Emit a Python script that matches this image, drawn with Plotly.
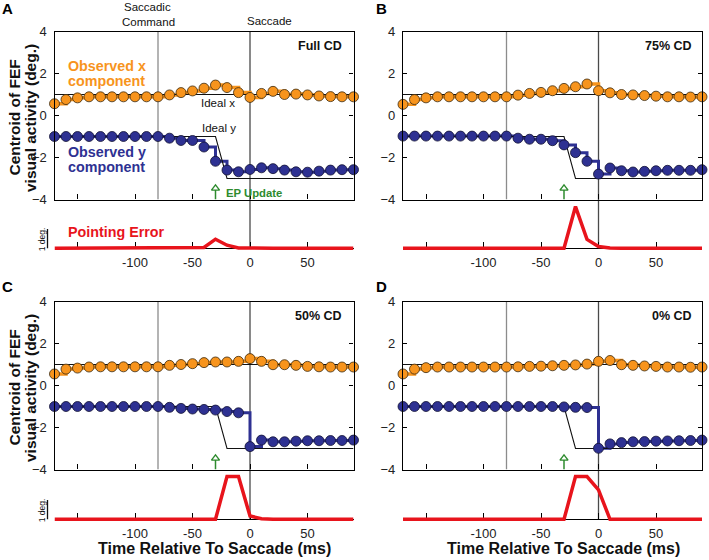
import plotly.graph_objects as go

W, H = 709, 560

# ---------------- data ----------------
t = list(range(-170, 91, 10))  # 27 samples, ms relative to saccade

obs_x_A = [0.56, 0.76, 0.84, 0.89, 0.89, 0.89, 0.89, 0.89, 0.89, 0.89,
           0.98, 1.09, 1.17, 1.30, 1.45, 1.33, 1.09, 0.86,
           1.05, 1.15, 1.00, 1.02, 0.98, 0.93, 0.90, 0.89, 0.89]
obs_y_A = [-1.0] * 10 + [-1.08, -1.19, -1.19, -1.50, -2.18, -2.60, -2.68, -2.57,
                         -2.49, -2.53, -2.60, -2.68, -2.70, -2.65, -2.60, -2.58, -2.58]
err_A = [0] * 13 + [0.04, 0.47, 0.16, 0.02, 0] + [0] * 9

obs_x_B = [0.53, 0.76, 0.84, 0.89, 0.89, 0.89, 0.89, 0.89, 0.89, 0.89,
           0.97, 1.05, 1.10, 1.18, 1.29, 1.37, 1.50, 1.18,
           1.08, 1.00, 0.98, 0.95, 0.92, 0.89, 0.89, 0.88, 0.89]
obs_y_B = [-0.98] * 10 + [-1.08, -1.13, -1.13, -1.20, -1.40, -1.77, -2.18, -2.79,
                          -2.50, -2.63, -2.69, -2.66, -2.63, -2.61, -2.61, -2.61, -2.58]
err_B = [0] * 15 + [2.15, 0.46, 0.09, 0.02] + [0] * 8

obs_x_C = [0.55, 0.78, 0.83, 0.88, 0.89, 0.89, 0.89, 0.89, 0.89, 0.89,
           0.96, 1.00, 1.04, 1.09, 1.12, 1.12, 1.15, 1.28,
           1.15, 0.99, 0.99, 0.96, 0.91, 0.89, 0.88, 0.88, 0.88]
obs_y_C = [-1.0] * 10 + [-1.04, -1.09, -1.12, -1.14, -1.17, -1.24, -1.30, -2.91,
                         -2.60, -2.68, -2.68, -2.65, -2.63, -2.63, -2.62, -2.62, -2.60]
err_C = [0] * 15 + [2.2, 2.2, 0.17, 0.03] + [0] * 8

obs_x_D = [0.55, 0.78, 0.85, 0.88, 0.88, 0.88, 0.88, 0.88, 0.88, 0.88,
           0.89, 0.91, 0.92, 0.94, 0.96, 0.98, 1.02, 1.15,
           1.19, 0.99, 0.96, 0.93, 0.91, 0.88, 0.88, 0.87, 0.88]
obs_y_D = [-1.0] * 14 + [-1.02, -1.04, -1.05, -2.99,
                         -2.78, -2.72, -2.68, -2.67, -2.65, -2.64, -2.63, -2.62, -2.60]
err_D = [0] * 15 + [2.2, 2.2, 1.52, 0] + [0] * 8

ideal_t = [-170, -30, -20, 90]
ideal_y = [-1, -1, -3, -3]
ideal_x_t = [-170, 90]
ideal_x = [1, 1]

saccade_cmd_t = -80
saccade_t = 0
ep_update_t = -30

panel_letters = ["A", "B", "C", "D"]
panel_titles = ["Full CD", "75% CD", "50% CD", "0% CD"]
x_tickvals = [-150, -100, -50, 0, 50]
x_ticktext = ["", "-100", "-50", "0", "50"]
y_tickvals = [-4, -2, 0, 2, 4]

obs_x = [obs_x_A, obs_x_B, obs_x_C, obs_x_D]
obs_y = [obs_y_A, obs_y_B, obs_y_C, obs_y_D]
errs = [err_A, err_B, err_C, err_D]

# ---------------- style ----------------
ORANGE = "#F7941D"
NAVY = "#2E3192"
RED = "#E8141C"
GREEN = "#2E8B2E"
FONT = "Liberation Sans, Arial, sans-serif"
PX_PER_DEG = 19.4

# panel geometry in pixels: (left, right, main_top, main_bottom, baseline)
geom = [
    (54.5, 353.5, 31.5, 199.5, 248.3),
    (403.0, 702.0, 31.5, 199.5, 248.3),
    (54.5, 353.5, 301.5, 469.5, 519.3),
    (403.0, 702.0, 301.5, 469.5, 519.3),
]


def px2x(px):
    return px / W


def px2y(py):
    return 1 - py / H


fig = go.Figure()
layout = dict(
    width=W, height=H,
    margin=dict(l=0, r=0, t=0, b=0, pad=0, autoexpand=False),
    paper_bgcolor="white", plot_bgcolor="rgba(0,0,0,0)",
    showlegend=False,
    font=dict(family=FONT, size=13, color="#222"),
)
shapes = []
annotations = []


def ann(text, px, py, size, color="#111", xanchor="center", yanchor="middle", angle=0):
    annotations.append(dict(
        text=text, x=px2x(px), y=px2y(py), xref="paper", yref="paper",
        xanchor=xanchor, yanchor=yanchor, showarrow=False, textangle=angle,
        font=dict(family=FONT, size=size, color=color), borderpad=0,
    ))


for i, (left, right, mtop, mbot, base) in enumerate(geom):
    mi = 2 * i + 1
    ei = 2 * i + 2
    xm = "x" if mi == 1 else f"x{mi}"
    ym = "y" if mi == 1 else f"y{mi}"
    xe = f"x{ei}"
    ye = f"y{ei}"
    xdom = [px2x(left), px2x(right)]
    err_bot = base + 6
    err_range = [-(err_bot - base) / PX_PER_DEG, (base - mbot) / PX_PER_DEG]

    layout["xaxis" if mi == 1 else f"xaxis{mi}"] = dict(
        domain=xdom, range=[-170, 90], anchor=ym,
        tickvals=x_tickvals, showticklabels=False,
        ticks="inside", ticklen=5, tickcolor="black", tickwidth=1,
        showline=True, linecolor="black", linewidth=1.3, mirror=True,
        showgrid=False, zeroline=False, automargin=False,
    )
    layout["yaxis" if mi == 1 else f"yaxis{mi}"] = dict(
        domain=[px2y(mbot), px2y(mtop)], range=[-4, 4], anchor=xm,
        tickvals=y_tickvals, ticks="inside", ticklen=4, tickcolor="black",
        showline=True, linecolor="black", linewidth=1.3, mirror="ticks",
        showgrid=False, zeroline=False, ticklabelstandoff=4, automargin=False,
        tickfont=dict(size=13, color="#222"),
    )
    layout[f"xaxis{ei}"] = dict(
        domain=xdom, range=[-170, 90], anchor="free", position=px2y(base),
        tickvals=x_tickvals, ticktext=x_ticktext,
        ticks="inside", ticklen=6, tickcolor="black", tickwidth=1,
        showline=True, linecolor="black", linewidth=1, layer="below traces",
        showgrid=False, zeroline=False, ticklabelstandoff=2, automargin=False,
        tickfont=dict(size=13, color="#222"),
    )
    layout[f"yaxis{ei}"] = dict(
        domain=[px2y(err_bot), px2y(mbot)], range=err_range, anchor=xe,
        visible=False, automargin=False,
    )

    # observed step lines
    fig.add_trace(go.Scatter(x=t, y=obs_x[i], xaxis=xm, yaxis=ym, mode="lines",
                             line=dict(color=ORANGE, width=3.5, shape="hv"), hoverinfo="skip"))
    fig.add_trace(go.Scatter(x=t, y=obs_y[i], xaxis=xm, yaxis=ym, mode="lines",
                             line=dict(color=NAVY, width=3, shape="hv"), hoverinfo="skip"))
    # ideal lines
    fig.add_trace(go.Scatter(x=ideal_x_t, y=ideal_x, xaxis=xm, yaxis=ym, mode="lines",
                             line=dict(color="#111", width=1.1), hoverinfo="skip"))
    fig.add_trace(go.Scatter(x=ideal_t, y=ideal_y, xaxis=xm, yaxis=ym, mode="lines",
                             line=dict(color="#111", width=1.1), hoverinfo="skip"))
    # markers
    fig.add_trace(go.Scatter(x=t, y=obs_x[i], xaxis=xm, yaxis=ym, mode="markers", cliponaxis=False,
                             marker=dict(color=ORANGE, size=10, line=dict(color="#3a2a10", width=0.8))))
    fig.add_trace(go.Scatter(x=t, y=obs_y[i], xaxis=xm, yaxis=ym, mode="markers", cliponaxis=False,
                             marker=dict(color=NAVY, size=10, line=dict(color="#111133", width=0.8))))
    # EP update arrow
    fig.add_trace(go.Scatter(x=[ep_update_t, ep_update_t], y=[-4, -3.55], xaxis=xm, yaxis=ym,
                             mode="lines", line=dict(color=GREEN, width=1.5), hoverinfo="skip"))
    fig.add_trace(go.Scatter(x=[ep_update_t], y=[-3.47], xaxis=xm, yaxis=ym, mode="markers",
                             cliponaxis=False,
                             marker=dict(symbol="triangle-up-open", size=7, color=GREEN,
                                         line=dict(color=GREEN, width=1.4))))
    # pointing error
    fig.add_trace(go.Scatter(x=t, y=errs[i], xaxis=xe, yaxis=ye, mode="lines", cliponaxis=False,
                             line=dict(color=RED, width=3.5), hoverinfo="skip"))

    # vertical reference lines
    shapes.append(dict(type="line", xref=xm, yref=ym, x0=saccade_cmd_t, x1=saccade_cmd_t,
                       y0=-4, y1=4, line=dict(color="#8c8c8c", width=1.3), layer="below"))
    shapes.append(dict(type="line", xref=xm, yref="paper", x0=saccade_t, x1=saccade_t,
                       y0=px2y(base), y1=px2y(mtop), line=dict(color="#4a4a4a", width=1.3),
                       layer="below"))

    # panel letter and condition title
    ann("<b>" + panel_letters[i] + "</b>", 7.2 if i % 2 == 0 else 381.2,
        mtop - 23 if i < 2 else mtop - 15.5, 15, color="#000")
    ann("<b>" + panel_titles[i] + "</b>", right - (11 if i % 2 == 0 else 9.5), mtop + 14.5,
        12.5, color="#111", xanchor="right")

    # left-column decorations
    if i % 2 == 0:
        ymid = (mtop + mbot) / 2 + 2.5
        ann("<b>Centroid of FEF</b>", 13.5, ymid, 15.5, color="#111", angle=-90)
        ann("<b>visual activity (deg.)</b>", 30, ymid, 15.5, color="#111", angle=-90)
        # 1 deg scale bar
        shapes.append(dict(type="line", xref="paper", yref=ye, x0=px2x(47.5), x1=px2x(47.5),
                           y0=0, y1=1, line=dict(color="#111", width=1.3)))
        ann("1 deg.", 41.5, base - 8.5, 8.5, color="#111", angle=-90)

    if i >= 2:
        ann("<b>Time Relative To Saccade (ms)</b>", (left + right) / 2 + 11, 548, 16, color="#111")

# panel A labels
ann("Saccadic", 147, 7.5, 11.5)
ann("Command", 148, 21.7, 11.5)
ann("Saccade", 269, 20.7, 11.5)
ann("<b>Observed x</b>", 66.5, 65.5, 14.3, color=ORANGE, xanchor="left")
ann("<b>component</b>", 66.5, 80.5, 14.3, color=ORANGE, xanchor="left")
ann("<b>Observed y</b>", 66.5, 151.7, 14.3, color=NAVY, xanchor="left")
ann("<b>component</b>", 66.5, 166.7, 14.3, color=NAVY, xanchor="left")
ann("Ideal x", 199.5, 103.3, 11.5, xanchor="left")
ann("Ideal y", 200.5, 127.7, 11.5, xanchor="left")
ann("<b>EP Update</b>", 224.5, 193.3, 11.3, color=GREEN, xanchor="left")
ann("<b>Pointing Error</b>", 66.5, 232.3, 14.3, color=RED, xanchor="left")

layout["shapes"] = shapes
layout["annotations"] = annotations
fig.update_layout(**layout)

post = (
    "document.documentElement.style.margin='0';"
    "document.documentElement.style.padding='0';"
    "document.body.style.margin='0';"
    "document.body.style.padding='0';"
    "document.body.style.overflow='hidden';"
    "document.body.style.height='560px';"
    "var g=document.getElementsByClassName('plotly-graph-div')[0];"
    "g.style.position='absolute';g.style.left='0px';g.style.top='0px';"
)
fig.write_html("out.html", config={"displayModeBar": False}, post_script=post)
